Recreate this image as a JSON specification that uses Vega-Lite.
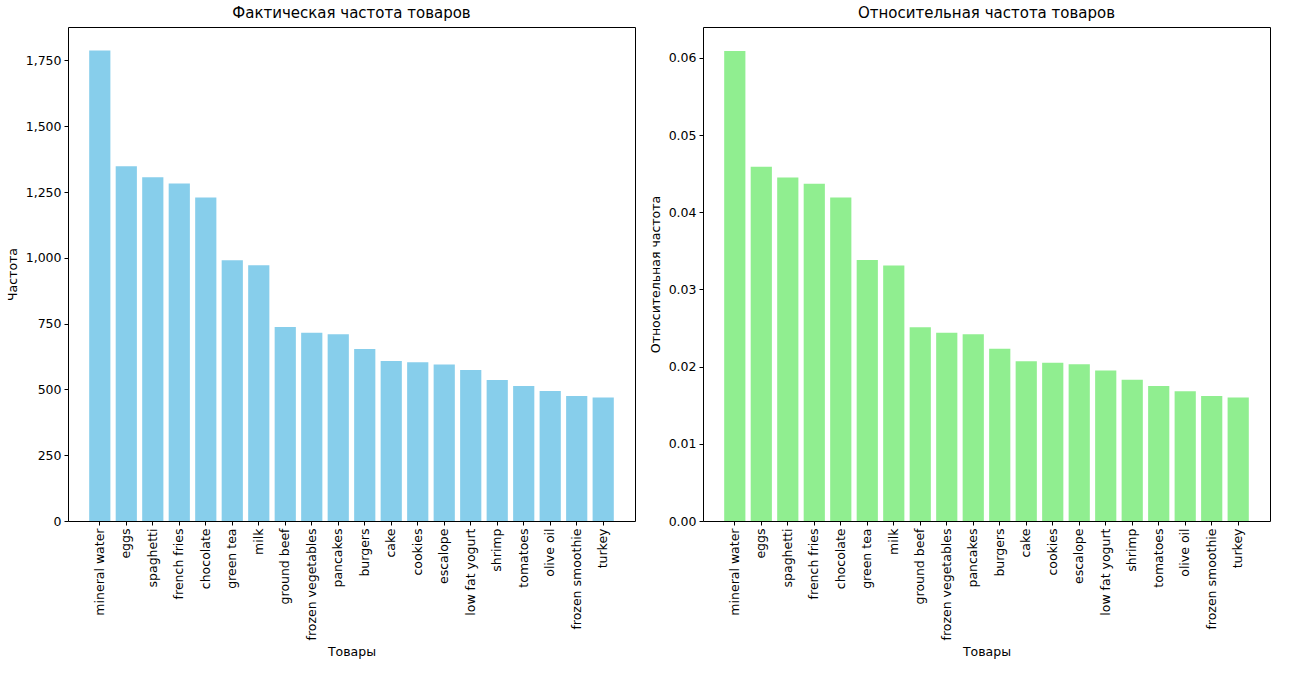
{
  "$schema": "https://vega.github.io/schema/vega-lite/v6.json",
  "padding": {"left": 5, "top": 5, "right": 8, "bottom": 5},
  "spacing": 12,
  "data": {"values": [
    {"item": "mineral water", "count": 1788, "rel": 0.0609},
    {"item": "eggs", "count": 1348, "rel": 0.0459},
    {"item": "spaghetti", "count": 1306, "rel": 0.0445},
    {"item": "french fries", "count": 1282, "rel": 0.0437},
    {"item": "chocolate", "count": 1229, "rel": 0.0419},
    {"item": "green tea", "count": 991, "rel": 0.0338},
    {"item": "milk", "count": 972, "rel": 0.0331},
    {"item": "ground beef", "count": 737, "rel": 0.0251},
    {"item": "frozen vegetables", "count": 715, "rel": 0.0244},
    {"item": "pancakes", "count": 710, "rel": 0.0242},
    {"item": "burgers", "count": 654, "rel": 0.0223},
    {"item": "cake", "count": 608, "rel": 0.0207},
    {"item": "cookies", "count": 603, "rel": 0.0205},
    {"item": "escalope", "count": 595, "rel": 0.0203},
    {"item": "low fat yogurt", "count": 574, "rel": 0.0195},
    {"item": "shrimp", "count": 536, "rel": 0.0183},
    {"item": "tomatoes", "count": 513, "rel": 0.0175},
    {"item": "olive oil", "count": 494, "rel": 0.0168},
    {"item": "frozen smoothie", "count": 475, "rel": 0.0162},
    {"item": "turkey", "count": 469, "rel": 0.0160}
  ]},
  "hconcat": [
    {
      "width": 567, "height": 494,
      "title": "Фактическая частота товаров",
      "mark": {"type": "bar", "color": "#87CEEB"},
      "encoding": {
        "x": {"field": "item", "type": "nominal", "sort": null, "title": "Товары",
              "scale": {"paddingInner": 0.2, "paddingOuter": 0.8},
              "axis": {"labelAngle": -90}},
        "y": {"field": "count", "type": "quantitative", "title": "Частота",
              "scale": {"domain": [0, 1877], "nice": false},
              "axis": {"values": [0, 250, 500, 750, 1000, 1250, 1500, 1750]}}
      }
    },
    {
      "width": 567, "height": 494,
      "title": "Относительная частота товаров",
      "mark": {"type": "bar", "color": "#90EE90"},
      "encoding": {
        "x": {"field": "item", "type": "nominal", "sort": null, "title": "Товары",
              "scale": {"paddingInner": 0.2, "paddingOuter": 0.8},
              "axis": {"labelAngle": -90}},
        "y": {"field": "rel", "type": "quantitative", "title": "Относительная частота",
              "scale": {"domain": [0, 0.064], "nice": false},
              "axis": {"values": [0, 0.01, 0.02, 0.03, 0.04, 0.05, 0.06], "format": ".2f"}}
      }
    }
  ],
  "config": {
    "font": "DejaVu Sans",
    "view": {"stroke": "black", "strokeWidth": 1},
    "title": {"fontSize": 15, "fontWeight": "normal", "color": "black", "offset": 6},
    "axis": {
      "grid": false, "domain": false, "tickColor": "black", "tickSize": 4,
      "labelFontSize": 12.5, "labelColor": "black", "labelPadding": 3,
      "titleFontSize": 12.5, "titleFontWeight": "normal", "titleColor": "black", "titlePadding": 6
    }
  }
}
